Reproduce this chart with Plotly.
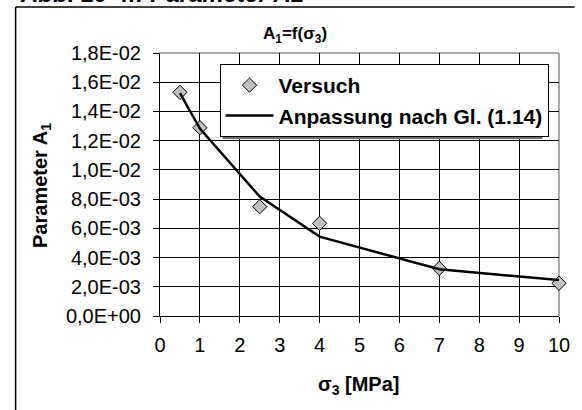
import plotly.graph_objects as go

# ---- data ----
sigma3 = [0.5, 1, 2.5, 4, 7, 10]
a1_versuch = [0.01531, 0.01289, 0.00748, 0.00634, 0.00326, 0.00224]
a1_fit = [0.01525, 0.01283, 0.00817, 0.00543, 0.00320, 0.00246]
y_tickvals = [0, 0.002, 0.004, 0.006, 0.008, 0.010, 0.012, 0.014, 0.016, 0.018]
y_ticktext = ["0,0E+00", "2,0E-03", "4,0E-03", "6,0E-03", "8,0E-03",
              "1,0E-02", "1,2E-02", "1,4E-02", "1,6E-02", "1,8E-02"]
x_tickvals = [0, 1, 2, 3, 4, 5, 6, 7, 8, 9, 10]

FONT = "Liberation Sans, Arial, sans-serif"
W, H = 582, 410
L, R, T, B = 160, 569, 53, 316  # plot area in px


def px(x):
    return (x - L) / (R - L)


def py(y):
    return (B - y) / (B - T)


fig = go.Figure()
fig.add_trace(go.Scatter(
    x=sigma3, y=a1_versuch, mode="markers", name="Versuch",
    legendgroup="a", cliponaxis=False,
    marker=dict(symbol="diamond", size=11, color="#c0c0c0",
                line=dict(color="black", width=1)),
))
fig.add_trace(go.Scatter(
    x=sigma3, y=a1_fit, mode="lines", name="Anpassung nach Gl. (1.14)",
    legendgroup="b", cliponaxis=False,
    line=dict(color="black", width=2.5),
))

shapes = [
    # plot area border (gray, top and right)
    dict(type="line", xref="paper", yref="paper", x0=0, x1=1, y0=1, y1=1,
         line=dict(color="#8c8c8c", width=1.5), layer="between"),
    dict(type="line", xref="paper", yref="paper", x0=1, x1=1, y0=0, y1=1,
         line=dict(color="#8c8c8c", width=1.5), layer="between"),
    # legend shadow
    dict(type="rect", xref="paper", yref="paper", x0=px(224), x1=px(552),
         y0=py(139), y1=py(67), fillcolor="#6e6e6e", line=dict(width=0),
         layer="above"),
    # outer frame (top and left)
    dict(type="line", xref="paper", yref="paper", x0=px(12), x1=px(585),
         y0=py(7), y1=py(7), line=dict(color="black", width=1.5)),
    dict(type="line", xref="paper", yref="paper", x0=px(12), x1=px(12),
         y0=py(7), y1=py(415), line=dict(color="black", width=1.5)),
]

annotations = [
    dict(text="<b><i>Abb. 10-4.: Parameter A1</i></b>", xref="paper", yref="paper",
         x=px(14), y=py(9), xanchor="left", yanchor="bottom", showarrow=False,
         font=dict(family=FONT, size=24, color="black")),
    dict(text="<b>A<sub>1</sub>=f(σ<sub>3</sub>)</b>", xref="paper", yref="paper",
         x=px(298), y=py(35), xanchor="center", yanchor="middle", showarrow=False,
         font=dict(family=FONT, size=17, color="black")),
    dict(text="<b>Parameter A<sub>1</sub></b>", xref="paper", yref="paper",
         x=px(38), y=py(185), xanchor="center", yanchor="middle", showarrow=False,
         textangle=-90, font=dict(family=FONT, size=20, color="black")),
    dict(text="<b>σ<sub>3</sub> [MPa]</b>", xref="paper", yref="paper",
         x=px(363), y=py(385), xanchor="center", yanchor="middle", showarrow=False,
         font=dict(family=FONT, size=20, color="black")),
]

fig.update_layout(
    width=W, height=H,
    margin=dict(l=L, r=W - R, t=T, b=H - B, pad=0),
    paper_bgcolor="white", plot_bgcolor="white",
    font=dict(family=FONT, size=20, color="black"),
    showlegend=True,
    legend=dict(x=px(221), y=py(64), xanchor="left", yanchor="top",
                bgcolor="white", bordercolor="black", borderwidth=1,
                font=dict(family=FONT, size=21, color="black", weight="bold"),
                traceorder="grouped", tracegroupgap=0, itemwidth=48),
    shapes=shapes,
    annotations=annotations,
)
fig.update_xaxes(range=[0, 10], tickvals=x_tickvals, showgrid=True,
                 gridcolor="black", gridwidth=1, zeroline=False,
                 showline=True, linecolor="black", linewidth=1,
                 ticks="outside", ticklen=6, tickcolor="black",
                 ticklabelstandoff=5, tickfont=dict(size=20))
fig.update_yaxes(range=[0, 0.018], tickvals=y_tickvals, ticktext=y_ticktext,
                 showgrid=True, gridcolor="black", gridwidth=1, zeroline=False,
                 showline=True, linecolor="black", linewidth=1,
                 ticks="outside", ticklen=6, tickcolor="black",
                 ticklabelstandoff=8, tickfont=dict(size=20))

fig.write_html("out.html")
